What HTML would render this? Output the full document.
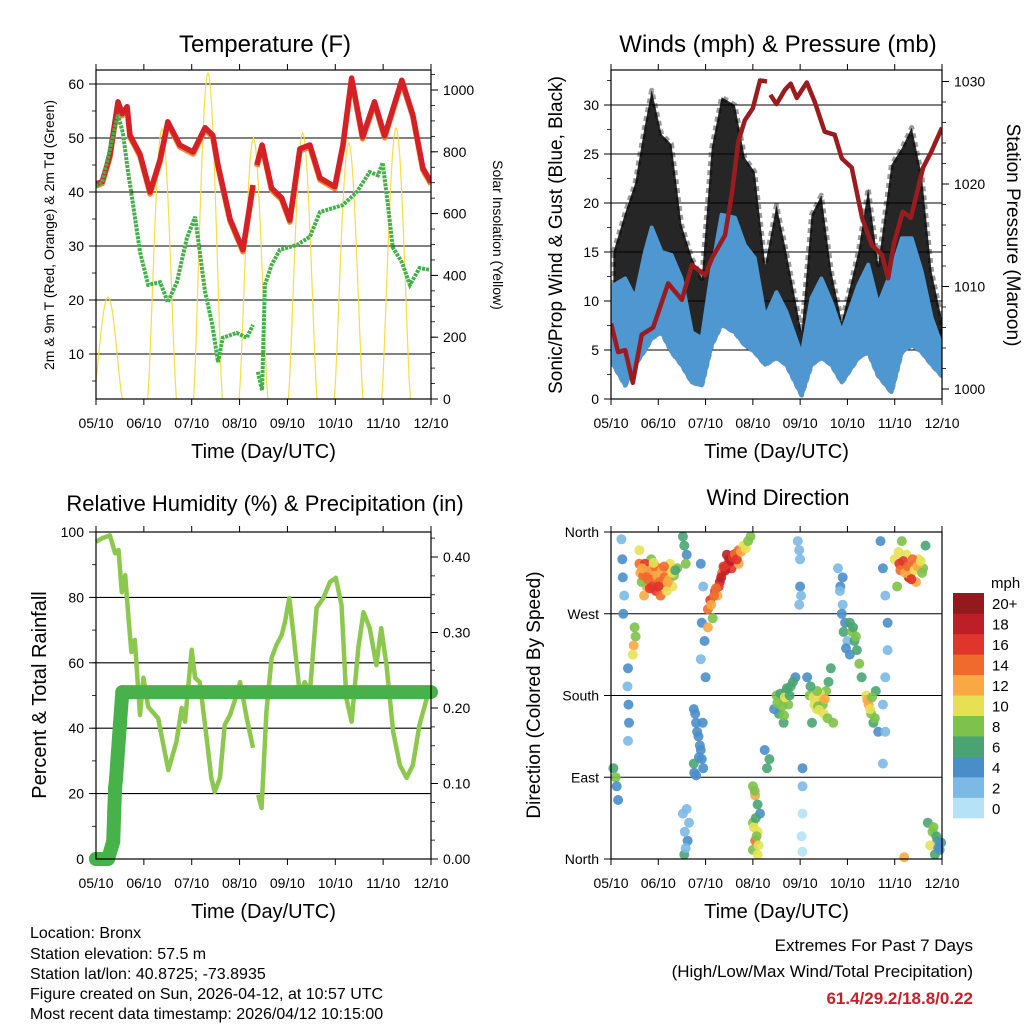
<!DOCTYPE html>
<html><head><meta charset="utf-8">
<style>
html,body{margin:0;padding:0;background:#fff;}
svg{display:block;font-family:"Liberation Sans",Arial,sans-serif;}
</style></head>
<body>
<svg id="chart" width="1024" height="1024" viewBox="0 0 1024 1024" xmlns="http://www.w3.org/2000/svg">
<rect x="0" y="0" width="1024" height="1024" fill="#fff"/>
<g id="p1"></g>
<g id="p2"></g>
<g id="p3"></g>
<g id="p4"></g>
<g font-size="16" fill="#000">
<text x="30" y="938">Location: Bronx</text>
<text x="30" y="959">Station elevation: 57.5 m</text>
<text x="30" y="979">Station lat/lon: 40.8725; -73.8935</text>
<text x="30" y="999">Figure created on Sun, 2026-04-12, at 10:57 UTC</text>
<text x="30" y="1019">Most recent data timestamp: 2026/04/12 10:15:00</text>
</g>
<g text-anchor="end">
<text x="973" y="951" font-size="17">Extremes For Past 7 Days</text>
<text x="973" y="977" font-size="17">(High/Low/Max Wind/Total Precipitation)</text>
<text x="973" y="1004" font-size="17" font-weight="bold" fill="#c8202a">61.4/29.2/18.8/0.22</text>
</g>
</svg>
<script>
// ---------- data ----------
const xTickLabels = ["05/10","06/10","07/10","08/10","09/10","10/10","11/10","12/10"];
const tempT = [0,0.13,0.29,0.46,0.55,0.65,0.71,0.92,1.13,1.34,1.50,1.75,2.03,2.28,2.44,2.55,2.80,3.07,3.28];
const tempV = [41.5,41.9,46.8,56.7,54.5,55.8,50.5,47,40,46,53,48.7,47.4,51.9,50.5,45,35,29.3,41.3];
const tempT2 = [3.36,3.47,3.67,3.88,4.05,4.26,4.47,4.68,4.99,5.16,5.34,5.57,5.82,6.03,6.39,6.62,6.83,7.0];
const tempV2 = [45,48.7,40.7,38.9,34.8,48,48.7,42.6,41,48.7,61.1,50.2,56.7,50.4,60.7,54.3,44.4,41.8];
const dewT = [0,0.13,0.46,0.56,0.67,0.77,0.92,1.09,1.34,1.50,1.69,1.90,2.07,2.13,2.28,2.43,2.55,2.65,2.94,3.15,3.28];
const dewV = [41,41.8,54.3,51,43.7,38,28.9,22.8,23.3,19.6,23.3,31.5,35.4,31.5,21.5,15.4,8.5,13,13.9,13,15.4];
const dewT2 = [3.38,3.47,3.53,3.67,3.84,4.20,4.47,4.68,5.16,5.45,5.72,5.89,5.99,6.10,6.20,6.39,6.56,6.76,6.97];
const dewV2 = [6.7,3.3,22.8,26.5,29.3,30.2,31.7,36.3,37.6,40,43.7,43.1,45.4,37.6,29.8,27,22.8,25.9,25.6];
const solarDay = [0.25,1.38,2.34,3.29,4.32,5.28,6.27];
const solarPeak = [330,874,1055,845,861,829,877];
const windT = [0.05,0.30,0.51,0.72,0.86,1.07,1.28,1.49,1.71,1.92,2.13,2.34,2.62,2.83,3.04,3.26,3.50,3.71,4.03,4.24,4.45,4.66,4.88,5.23,5.44,5.65,5.93,6.15,6.36,6.57,6.78,6.99];
const gustHigh = [15,19,22,28,31.5,27,26,17.8,14.4,12.3,25.6,30.8,30,24.6,23.2,13.7,19.8,15,6.8,18.8,20.8,13,7.9,15,21.5,13.7,23.9,25.6,27.7,22.9,13,8.3];
const windHigh = [11.6,12.3,10.3,15,17.5,15,14.7,12.3,6.8,6.2,13,18.8,18.5,15.7,14.4,8.3,10.9,8.9,4.5,10.3,12.3,9.9,6.8,11.6,13.7,9.6,13,16.4,16.4,13,8.3,5.5];
const windLow = [3.5,1.4,3.5,5,6.2,6.8,4.8,3.5,1.7,1.4,5.5,7.6,6.8,5.5,4.8,3.5,4.2,3.5,0.4,3.5,4.2,3.5,1.7,4.2,4.8,2.4,0.7,4.8,5.5,4.8,3.5,2.4];
const presT = [0,0.15,0.30,0.46,0.65,0.89,1.21,1.50,1.71,1.99,2.14,2.41,2.56,2.69,2.83,3.00,3.15,3.30];
const presV = [1006.4,1003.6,1003.8,1000.6,1005.3,1006,1010.3,1008.7,1012.1,1011.1,1012.8,1015,1019.2,1024.1,1026.2,1027.4,1030.1,1030];
const presT2 = [3.37,3.50,3.68,3.80,3.93,4.14,4.31,4.52,4.73,4.88,5.09,5.31,5.52,5.73,5.86,5.99,6.17,6.34,6.60,6.77,7.0];
const presV2 = [1028.7,1027.8,1029.2,1029.8,1028.4,1029.9,1028,1025.1,1024.8,1022.5,1021.6,1016.7,1014,1013.1,1010.8,1014.3,1017.3,1016.7,1021.6,1023.1,1025.5];
const rhT = [0,0.12,0.29,0.40,0.47,0.54,0.61,0.68,0.74,0.81,0.92,0.99,1.09,1.30,1.51,1.68,1.79,1.86,2.0,2.07,2.17,2.31,2.41,2.48,2.59,2.69,2.80,2.94,3.01,3.15,3.28];
const rhV = [97,98,99,93.5,94.5,81.6,86.8,73.7,63.3,67,44,55.4,46.5,43,27.2,35.8,46.2,42,64,55.4,54.1,37,24.8,20.5,24.8,41,44,50.2,54.1,43,34];
const rhT2 = [3.39,3.46,3.56,3.67,3.77,3.88,3.95,4.04,4.12,4.26,4.36,4.47,4.61,4.75,4.89,5.01,5.13,5.23,5.34,5.48,5.59,5.72,5.86,5.96,6.07,6.21,6.35,6.49,6.62,6.76,6.97];
const rhV2 = [19.6,15.6,45,61.5,65.4,68.5,72.5,79.8,69.4,50.2,54.1,51,76.8,79.8,84.7,86,77.7,49.2,42,64.5,75.5,70.6,59.3,70.6,59.3,38.8,28.7,24.8,28.7,41,52.3];
const precipT = [0,0.25,0.36,0.38,0.40,0.42,0.45,0.50,0.55,7.0];
const precipV = [0,0,0.023,0.062,0.094,0.107,0.134,0.178,0.221,0.221];
const dirT = [0.22,0.24,0.25,0.28,0.26,0.5,0.52,0.48,0.46,0.36,0.35,0.37,0.38,0.36,0.05,0.1,0.12,0.15,
0.6,0.7,0.8,0.9,1.0,1.1,1.2,1.3,0.75,0.95,1.05,1.15,0.65,0.85,1.25,1.4,0.6,
0.62,0.68,0.72,0.78,0.83,0.88,0.93,0.98,1.03,1.08,1.13,1.18,1.23,1.28,1.33,0.7,0.82,0.9,1.12,1.2,1.3,1.36,0.66,0.76,1.0,
1.52,1.55,1.6,1.58,1.9,1.95,1.92,1.98,1.9,2.0,1.75,1.8,1.85,1.9,1.75,1.95,1.8,1.92,1.6,1.65,1.62,1.55,
1.78,1.82,1.88,1.76,1.86,1.94,1.52,1.56,1.58,
2.05,2.1,2.2,2.3,2.4,2.5,2.6,2.7,2.8,2.95,2.15,2.25,2.55,2.7,2.05,2.35,2.45,
2.12,2.18,2.28,2.33,2.42,2.48,2.52,2.58,2.62,2.66,2.75,2.85,2.9,2.22,2.38,
3.0,3.05,3.1,3.0,3.1,3.05,3.0,3.1,3.15,3.25,3.35,3.3,3.02,3.08,3.04,3.12,3.06,
3.5,3.6,3.7,3.8,3.9,3.55,3.65,3.75,3.45,3.95,4.0,4.0,3.98,4.05,4.05,4.05,4.03,4.05,
3.58,3.62,3.68,3.72,3.85,3.52,3.66,3.78,3.98,4.02,
4.2,4.3,4.35,4.45,4.5,4.55,4.6,4.25,4.65,4.15,4.7,4.8,4.85,4.9,4.95,5.0,5.05,4.9,
4.28,4.32,4.38,4.42,4.48,4.52,4.4,4.36,4.22,4.58,4.84,4.88,4.92,4.97,
5.05,5.1,5.15,5.2,5.25,5.3,5.4,5.45,5.5,5.55,5.6,5.65,5.7,5.75,5.8,5.85,5.85,5.8,5.75,5.8,5.75,
5.42,5.48,5.52,5.58,5.12,5.18,
6.0,6.1,6.2,6.3,6.4,6.5,6.6,6.05,6.25,6.45,6.65,6.15,6.7,6.8,6.9,6.95,6.85,6.75,6.2,
6.12,6.18,6.22,6.28,6.33,6.38,6.42,6.48,6.55,6.35,6.08,6.58,6.88,6.92,6.98,6.82];
const dirV = [352,330,310,290,270,255,245,235,225,210,190,170,150,130,100,90,80,65,
325,320,315,310,320,305,315,300,300,295,290,300,305,330,325,320,340,
315,312,325,308,318,300,322,312,305,318,310,295,308,320,312,290,298,326,322,305,315,318,320,310,300,
355,345,335,325,325,300,260,240,220,200,165,150,135,120,105,100,92,110,55,40,20,5,
160,140,125,95,112,150,50,30,12,
275,285,295,305,320,330,335,340,345,355,265,290,320,325,255,315,335,
280,290,300,310,318,325,328,332,336,330,338,342,350,298,322,
80,70,60,40,30,20,10,5,50,120,110,100,35,25,75,15,45,
180,175,185,190,200,160,150,170,165,350,330,300,280,100,80,50,25,8,
182,168,178,188,195,172,158,180,340,290,
180,170,165,175,160,185,195,150,210,200,150,320,300,280,260,240,225,310,
178,172,168,182,170,176,164,185,190,155,295,270,250,232,
260,250,240,230,215,200,180,170,160,150,185,140,350,320,290,260,230,200,170,140,105,
175,165,178,155,255,245,
330,325,320,310,325,330,320,300,335,305,345,350,40,30,20,10,5,15,2,
318,328,315,322,312,330,318,322,328,308,338,315,25,12,18,35];
const dirS = [2,3,4,2,4,8,7,12,10,3,2,4,4,2,5,7,4,3,
14,16,18,14,12,14,12,10,12,16,14,14,8,8,10,8,10,
12,14,16,14,12,16,14,12,14,12,14,10,12,10,8,12,16,10,14,12,10,6,12,14,16,
5,6,4,7,3,2,4,3,2,4,4,4,4,4,5,4,3,3,2,2,4,6,
4,4,4,4,4,4,2,2,2,
14,16,16,18,20,18,18,14,10,8,8,12,16,12,12,14,18,
12,14,16,18,18,16,18,16,14,16,12,10,8,14,16,
8,12,6,8,10,14,8,10,4,4,6,6,10,8,8,10,6,
8,10,6,6,4,6,6,8,4,2,2,4,2,4,2,0,0,0,
6,8,10,6,6,8,8,6,2,2,
8,10,10,12,10,8,6,6,6,4,8,2,4,2,4,2,4,4,
10,10,8,10,8,12,10,8,6,8,2,4,6,4,
6,8,6,6,8,6,10,12,8,6,6,4,4,4,2,4,2,2,2,2,2,
12,10,8,8,6,8,
10,16,14,18,12,10,8,8,10,12,6,8,6,8,4,4,6,10,12,
14,16,12,14,12,14,10,12,10,16,10,8,6,4,4,8];
const speedLabels = ["0","2","4","6","8","10","12","14","16","18","20+"];
const speedColors = ["#b5e2f7","#7cb9e4","#4a8ec9","#4aa472","#7dc24a","#e7e055","#f8a943","#f06a2d","#e0352b","#be1e26","#921a1d"];

const NS = "http://www.w3.org/2000/svg";
function mk(parent, tag, attrs, text){
  const e = document.createElementNS(NS, tag);
  for (const k in attrs) e.setAttribute(k, attrs[k]);
  if (text !== undefined) e.textContent = text;
  parent.appendChild(e); return e;
}
function lin(d0,d1,r0,r1){ return v => r0 + (v-d0)/(d1-d0)*(r1-r0); }
function pathOf(ts, vs, sx, sy){
  return ts.map((t,i)=>(i?"L":"M")+sx(t).toFixed(1)+","+sy(vs[i]).toFixed(1)).join("");
}
function frame(g, L, T, R, B, xlabel){
  const sx = lin(0,7,L,R);
  xTickLabels.forEach((lab,i)=>{
    const x = sx(i);
    const tk = mk(g,"line",{x1:x,x2:x,y1:T-6,y2:T,stroke:"#000","stroke-width":1});
    
    
    const tb = mk(g,"line",{x1:x,x2:x,y1:B,y2:B+6,stroke:"#000","stroke-width":1});
    
    
    const tl = mk(g,"text",{x:x,y:B+29,"text-anchor":"middle","font-size":14},lab);
    
    
  });
  const xt = mk(g,"text",{x:(L+R)/2,y:B+59,"text-anchor":"middle","font-size":20},xlabel);
  
  
  return sx;
}
function border(g,L,T,R,B){
  const r = mk(g,"rect",{x:L,y:T,width:R-L,height:B-T,fill:"none",stroke:"#000","stroke-width":1.2});
  
  
}
function yAxis(g, ticks, labels, sy, side, X, L, R, grid, minorStep, minorRange){
  ticks.forEach((v,i)=>{
    const y = sy(v);
    if (grid && y>=sy(minorRange[1]) && y<=sy(minorRange[0])) {
      const gl = mk(g,"line",{x1:L,x2:R,y1:y,y2:y,stroke:"#000","stroke-width":1.1});
      
      
    }
    const tk = mk(g,"line",{x1:side<0?X-7:X,x2:side<0?X:X+7,y1:y,y2:y,stroke:"#000","stroke-width":1});
    
    
    const t = mk(g,"text",{x:side<0?X-12:X+12,y:y+5,"text-anchor":side<0?"end":"start","font-size":14},labels[i]);
    
    
  });
  if (minorStep){
    for (let v=minorRange[0]; v<=minorRange[1]+1e-9; v+=minorStep){
      const y = sy(v);
      const m = mk(g,"line",{x1:side<0?X-4:X,x2:side<0?X:X+4,y1:y,y2:y,stroke:"#000","stroke-width":0.8});
      
      
    }
  }
}
function title(g,x,y,txt,size,rot,name){
  const a = {x:x,y:y,"text-anchor":"middle","font-size":size};
  if (rot) a.transform = "rotate("+rot+" "+x+" "+y+")";
  const t = mk(g,"text",a,txt);
  
  
}

// ---------- Panel 1 ----------
(function(){
  const g = document.getElementById("p1");
  const L=96,T=70,R=431,B=399;
  const sx = frame(g,L,T,R,B,"Time (Day/UTC)");
  const sy = lin(10,60,354,84);
  const sy2 = lin(0,1000,399,90);
  yAxis(g,[10,20,30,40,50,60],["10","20","30","40","50","60"],sy,-1,L,L,R,true,5,[5,60]);
  yAxis(g,[0,200,400,600,800,1000],["0","200","400","600","800","1000"],sy2,1,R,L,R,false,50,[0,1050]);
  const clip = mk(g,"clipPath",{id:"c1"}); mk(clip,"rect",{x:L,y:T,width:R-L,height:B-T});
  const pg = mk(g,"g",{"clip-path":"url(#c1)"});
  solarDay.forEach((d,i)=>{
    let s="";
    for (let k=0;k<=24;k++){
      const f = (k-12)/12;
      const val = solarPeak[i]*Math.pow(Math.cos(f*Math.PI/2),1.3);
      s += (k?"L":"M")+sx(d+f*0.3).toFixed(1)+","+sy2(val).toFixed(1);
    }
    const p = mk(pg,"path",{d:s,fill:"none",stroke:"#f7dc45","stroke-width":1.2});
    
    
  });
  [[tempT,tempV],[tempT2,tempV2]].forEach(([t,v])=>{
    const o = mk(pg,"path",{d:pathOf(t,v,sx,y=>sy(y)+2),fill:"none",stroke:"#f28a2e","stroke-width":5.5,"stroke-linejoin":"round"});
    
    
    const r = mk(pg,"path",{d:pathOf(t,v,sx,sy),fill:"none",stroke:"#d42127","stroke-width":5.5,"stroke-linejoin":"round"});
    
    
  });
  [[dewT,dewV],[dewT2,dewV2]].forEach(([t,v])=>{
    const d = mk(pg,"path",{d:pathOf(t,v,sx,sy),fill:"none",stroke:"#44b04a","stroke-width":4,"stroke-dasharray":"3 1"});
    
    
  });
  border(g,L,T,R,B);
  title(g,265,52,"Temperature (F)",24,0,"panel-title");
  title(g,54,235,"2m & 9m T (Red, Orange) & 2m Td (Green)",14,-90,"y-axis-title");
  title(g,493,235,"Solar Insolation (Yellow)",14,90,"y2-axis-title");
})();

// ---------- Panel 2 ----------
(function(){
  const g = document.getElementById("p2");
  const L=611,T=70,R=942,B=399;
  const sx = frame(g,L,T,R,B,"Time (Day/UTC)");
  const sy = lin(0,30,399,105);
  const sy2 = lin(1000,1030,389,81.5);
  yAxis(g,[0,5,10,15,20,25,30],["0","5","10","15","20","25","30"],sy,-1,L,L,R,true,2.5,[0,32.5]);
  yAxis(g,[1000,1010,1020,1030],["1000","1010","1020","1030"],sy2,1,R,L,R,false,2,[1000,1030]);
  const clip = mk(g,"clipPath",{id:"c2"}); mk(clip,"rect",{x:L,y:T,width:R-L,height:B-T});
  const pg = mk(g,"g",{"clip-path":"url(#c2)"});
  const gp = pathOf(windT,gustHigh,sx,sy) + pathOf(windT.slice().reverse(),windLow.slice().reverse(),sx,sy).replace("M","L")+"Z";
  const gb = mk(pg,"path",{d:gp,fill:"#000","fill-opacity":0.85,stroke:"#000","stroke-width":5,"stroke-linejoin":"round","stroke-opacity":0.4,"stroke-dasharray":"5 4"});
  
  
  const wp = pathOf(windT,windHigh,sx,sy) + pathOf(windT.slice().reverse(),windLow.slice().reverse(),sx,sy).replace("M","L")+"Z";
  const wb = mk(pg,"path",{d:wp,fill:"#4f97d0",stroke:"#4f97d0","stroke-width":4,"stroke-linejoin":"round"});
  
  
  [[presT,presV],[presT2,presV2]].forEach(([t,v])=>{
    const p = mk(pg,"path",{d:pathOf(t,v,sx,sy2),fill:"none",stroke:"#9b1c1f","stroke-width":4.5,"stroke-linejoin":"round"});
    
    
  });
  border(g,L,T,R,B);
  title(g,778,52,"Winds (mph) & Pressure (mb)",24,0,"panel-title");
  title(g,562,235,"Sonic/Prop Wind & Gust (Blue, Black)",19,-90,"y-axis-title");
  title(g,1007,235,"Station Pressure (Maroon)",19,90,"y2-axis-title");
})();

// ---------- Panel 3 ----------
(function(){
  const g = document.getElementById("p3");
  const L=96,T=532,R=431,B=859;
  const sx = frame(g,L,T,R,B,"Time (Day/UTC)");
  const sy = lin(0,100,859,532);
  const sy2 = lin(0,0.4,859,557);
  yAxis(g,[0,20,40,60,80,100],["0","20","40","60","80","100"],sy,-1,L,L,R,true,10,[0,100]);
  yAxis(g,[0,0.1,0.2,0.3,0.4],["0.00","0.10","0.20","0.30","0.40"],sy2,1,R,L,R,false,0.025,[0,0.425]);
  [[rhT,rhV],[rhT2,rhV2]].forEach(([t,v])=>{
    const p = mk(g,"path",{d:pathOf(t,v,sx,sy),fill:"none",stroke:"#8cc84e","stroke-width":4.5,"stroke-linejoin":"round"});
    
    
  });
  const pp = mk(g,"path",{d:pathOf(precipT,precipV,sx,sy2),fill:"none",stroke:"#47b249","stroke-width":14,"stroke-linejoin":"round","stroke-linecap":"round"});
  
  
  precipT.forEach((t,i)=>{
    if (i===precipT.length-1) return;
    const c = mk(g,"circle",{cx:sx(t),cy:sy2(precipV[i]),r:7,fill:"#47b249"});
    
    
  });
  border(g,L,T,R,B);
  title(g,265,511,"Relative Humidity (%) & Precipitation (in)",22,0,"panel-title");
  title(g,46,695,"Percent & Total Rainfall",20,-90,"y-axis-title");
})();

// ---------- Panel 4 ----------
(function(){
  const g = document.getElementById("p4");
  const L=611,T=532,R=942,B=859;
  const sx = frame(g,L,T,R,B,"Time (Day/UTC)");
  const sy = lin(0,360,859,532);
  yAxis(g,[0,90,180,270,360],["North","East","South","West","North"],sy,-1,L,L,R,true,null,[45,315]);
  dirT.forEach((t,i)=>{
    const ci = Math.min(10,Math.max(0,Math.round(dirS[i]/2)));
    const c = mk(g,"circle",{cx:sx(t).toFixed(1),cy:sy(dirV[i]).toFixed(1),r:5,fill:speedColors[ci],"fill-opacity":0.9});
    
    
  });
  border(g,L,T,R,B);
  title(g,778,505,"Wind Direction",22,0,"panel-title");
  title(g,540,695,"Direction (Colored By Speed)",19,-90,"y-axis-title");
  const cb = mk(g,"g",{});
  
  
  const t = mk(cb,"text",{x:991,y:588,"font-size":15},"mph");
  
  
  const h = (818-593)/11;
  speedLabels.forEach((lab,i)=>{
    const y = 593 + (10-i)*h;
    const r = mk(cb,"rect",{x:953,y:y,width:31,height:h+0.3,fill:speedColors[i]});
    
    
    const tx = mk(cb,"text",{x:992,y:y+h/2+6,"font-size":15},lab);
    
    
  });
})();
</script>
</body></html>
